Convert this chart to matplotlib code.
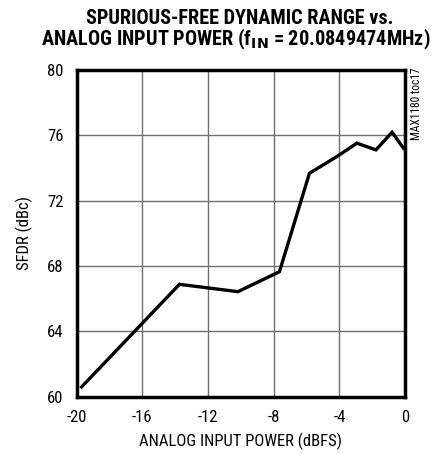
import matplotlib
matplotlib.use("Agg")
import matplotlib.pyplot as plt

cond = ["Roboto Condensed", "DejaVu Sans"]

x_dbfs = [-19.7, -13.74, -10.18, -7.65, -5.82, -4.15, -2.93, -1.77, -0.79, -0.09]
sfdr = [60.6, 66.88, 66.43, 67.65, 73.68, 74.70, 75.52, 75.11, 76.19, 75.21]
xticks = [-20, -16, -12, -8, -4, 0]
yticks = [60, 64, 68, 72, 76, 80]

fig = plt.figure(figsize=(4.38, 4.54), dpi=100)
ax = fig.add_axes([76.7/438, 1-396.7/454, 328.3/438, 326.7/454])
ax.plot(x_dbfs, sfdr, color="black", lw=2.4, solid_joinstyle="miter")
ax.set_xlim(-20, 0)
ax.set_ylim(60, 80)
ax.set_xticks(xticks)
ax.set_yticks(yticks)
ax.set_xticklabels([str(t) for t in xticks], fontfamily=cond, fontsize=12)
ax.set_yticklabels([str(t) for t in yticks], fontfamily=cond, fontsize=12)
ax.tick_params(axis="x", length=0, pad=9.5)
ax.tick_params(axis="y", length=0, pad=9.5)
ax.grid(True, color="#707070", lw=1.0)
for s in ax.spines.values():
    s.set_linewidth(2.5)
ax.set_xlabel("ANALOG INPUT POWER (dBFS)", fontfamily=cond, fontsize=12, labelpad=6)
ax.set_ylabel("SFDR (dBc)", fontfamily=cond, fontsize=12, labelpad=10)
fig.text(240/438, 1-18/454, "SPURIOUS-FREE DYNAMIC RANGE vs.", ha="center", va="center",
         fontfamily=cond, fontweight=900, fontsize=14.6)
fig.text(236/438, 1-39.5/454, r"ANALOG INPUT POWER (f$_\mathsf{\mathbf{IN}}$ = 20.0849474MHz)", ha="center", va="center",
         fontfamily=cond, fontweight=900, fontsize=14.6)
fig.text(417/438, 1-67/454, "MAX1180 toc17", rotation=90, ha="center", va="top",
         fontfamily=cond, fontsize=8.3)
fig.savefig("out.png", dpi=100)
